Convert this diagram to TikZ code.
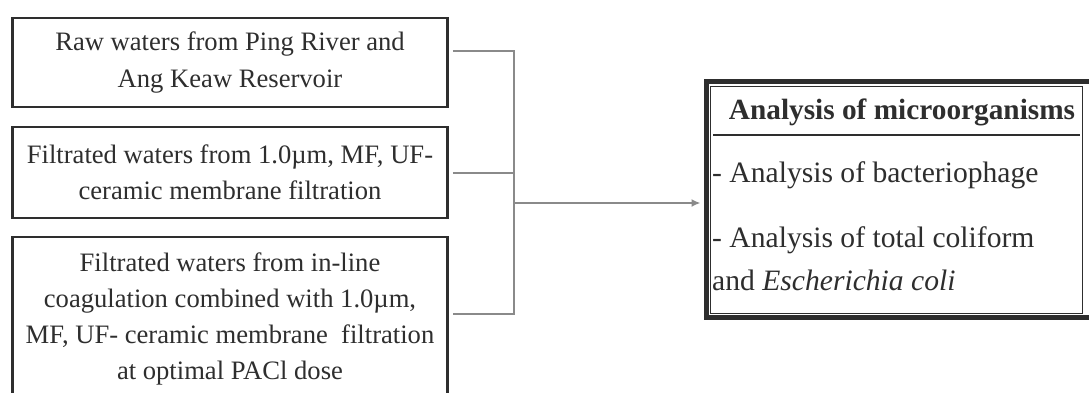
\documentclass[tikz,border=0pt]{standalone}
\usepackage{fontspec}
\setmainfont{Liberation Serif}
\usetikzlibrary{arrows.meta}
\definecolor{ink}{HTML}{2E2E2E}
\definecolor{wire}{HTML}{8A8A8A}

\begin{document}
\begin{tikzpicture}[x=1pt,y=-1pt,font=\fontsize{26.6}{36}\selectfont,
  srcbox/.style={draw=ink,line width=2.5pt,text=ink,align=center,minimum width=435pt,inner sep=0pt},
  link/.style={draw=wire,line width=2pt},
  frame/.style={draw=ink,line width=5pt,minimum width=390pt,minimum height=236pt,inner sep=0pt},
  result/.style={text=ink,anchor=west,inner sep=0pt,font=\fontsize{29.6}{36}\selectfont}]
\useasboundingbox (0,0) rectangle (1089,392);
\clip (0,0) rectangle (1089,392);
\fill[white] (0,0) rectangle (1089,392);
\node[srcbox,minimum height=89pt] (raw) at (230,62.5) {Raw waters from Ping River and\\Ang Keaw Reservoir};
\node[srcbox,minimum height=91pt] (filt) at (230,172.5) {Filtrated waters from 1.0µm, MF, UF-\\ceramic membrane filtration};
\node[srcbox,minimum height=164pt] (coag) at (230,319) {Filtrated waters from in-line\\coagulation combined with 1.0µm,\\MF, UF- ceramic membrane\ \ filtration\\at optimal PACl dose};
\node[frame] (ana) at (901,199) {};
\draw[ink,line width=1.5pt] ([shift={(7pt,-8pt)}]ana.north west) rectangle ([shift={(-16pt,6pt)}]ana.south east);
\draw[ink,line width=2pt] (713,135) -- (1080,135);
\node[text=ink,font=\fontsize{29.3}{36}\selectfont\bfseries] (head) at (902,112) {Analysis of microorganisms};
\node[result] (phage) at (712,175) {- Analysis of bacteriophage};
\node[result] (coli) at (712,240) {- Analysis of total coliform};
\node[result] (ecoli) at (712,280) {and \textit{Escherichia coli}};
\coordinate (bus) at (514,203);
\draw[link] ([xshift=4pt,yshift=12pt]raw.east) -| (bus) |- ([xshift=4pt,yshift=5pt]coag.east);
\draw[link] ([xshift=4pt]filt.east) -- (filt.east -| bus);
\draw[link,-{Latex[length=9pt,width=8pt]}] (bus) -- ([xshift=-3pt]bus -| ana.west);
\end{tikzpicture}
\end{document}
